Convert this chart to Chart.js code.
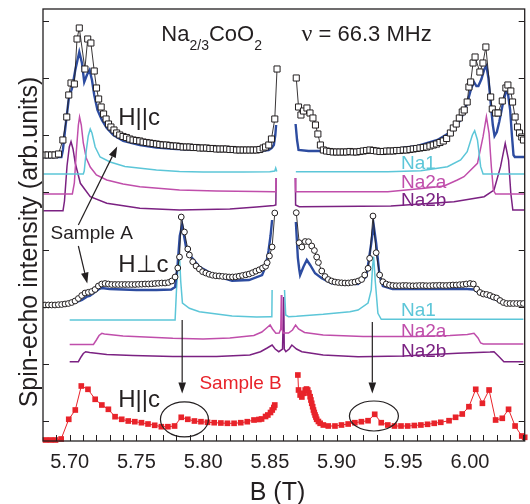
<!DOCTYPE html>
<html>
<head>
<meta charset="utf-8">
<script src="https://cdn.jsdelivr.net/npm/chart.js@4.4.1/dist/chart.umd.min.js"></script>
<style>
html, body { margin: 0; padding: 0; background: #fff; }
</style>
</head>
<body>
<canvas id="nmrChart" width="530" height="504"></canvas>
<script>
// B in tesla, intensity in arbitrary units
const xTicks = [5.70, 5.75, 5.80, 5.85, 5.90, 5.95, 6.00];
const yTicks = [20, 77, 134, 191, 249, 306, 363, 420];

// Sample A, H||c : measured points (null = gap in the sweep)
const hcDataB = [5.6812, 5.6838, 5.6864, 5.6890, 5.6916, 5.6949, 5.6978, 5.6993, 5.7010, 5.7035, 5.7055, 5.7072, 5.7114, 5.7135, 5.7159, 5.7184, 5.7201, 5.7217, 5.7236, 5.7254, 5.7273, 5.7291, 5.7309, 5.7332, 5.7352,
  5.7375, 5.7400, 5.7425, 5.7450, 5.7475, 5.7500, 5.7525, 5.7550, 5.7575, 5.7600, 5.7625, 5.7650, 5.7675, 5.7700, 5.7725, 5.7750, 5.7775, 5.7800, 5.7825, 5.7850, 5.7875, 5.7900, 5.7925, 5.7950, 5.7975, 5.8000, 5.8025, 5.8050, 5.8075, 5.8100, 5.8125, 5.8150, 5.8175, 5.8200, 5.8225, 5.8250, 5.8275, 5.8300, 5.8325, 5.8350, 5.8375, 5.8400, 5.8425, 5.8450, 5.8468, 5.8492, 5.8512, 5.8537, 5.8554,
  5.8620,
  5.8698, 5.8715, 5.8733, 5.8752, 5.8778, 5.8801, 5.8823, 5.8842, 5.8860, 5.8879, 5.8901,
  5.8925, 5.8950, 5.8975, 5.9000, 5.9025, 5.9050, 5.9075, 5.9100, 5.9125, 5.9150, 5.9175, 5.9200, 5.9225, 5.9250, 5.9275, 5.9300, 5.9325, 5.9350, 5.9375, 5.9400, 5.9425, 5.9450, 5.9475, 5.9500, 5.9525, 5.9550, 5.9575, 5.9600, 5.9625, 5.9650, 5.9675, 5.9700, 5.9725, 5.9750, 5.9775, 5.9800, 5.9825,
  5.9853, 5.9875, 5.9897, 5.9920, 5.9942, 5.9957, 5.9979, 5.9992, 6.0005, 6.0023, 6.0038, 6.0074, 6.0097, 6.0119, 6.0155, 6.0167, 6.0192, 6.0210, 6.0242, 6.0269, 6.0284, 6.0306, 6.0319, 6.0338, 6.0356, 6.0371, 6.0388, 6.0401];
const hcDataI = [286, 286, 286, 286, 287, 301, 324, 346, 358, 357, 402, 413, 372, 402, 398, 370, 353, 342, 334, 327, 322, 317, 314, 311, 308,
  306, 304.5, 303.5, 302, 301, 300.5, 300, 299, 298.5, 298, 297.5, 297, 296.5, 296, 296, 295.5, 295, 295, 294.5, 294, 294, 294, 293.5, 293.5, 293, 293, 293, 292.5, 292.5, 292, 292, 292, 292, 291.5, 291.5, 291, 291, 291, 291, 291, 291, 291, 291.5, 293, 294, 296, 302, 322, 372,
  null,
  363, 334, 326, 330, 333, 328, 323, 316, 307, 296, 291,
  290, 289.5, 289, 289, 289, 289, 289, 289.5, 289, 289, 289.5, 290, 290.5, 291, 290.5, 290, 289.5, 289.5, 290, 290, 290, 290.5, 290.5, 291, 291, 291.5, 292, 292.5, 293, 293.5, 294, 295, 296, 297, 298.5, 300, 302.5,
  308, 313, 317, 323, 329, 331, 339, 354, 359, 378, 384, 369, 378, 394, 344, 332, 328, 328, 340, 353, 356, 350, 339, 324, 314, 308, 304, 301];

// Sample A, H||c : simulated total and components
const hcFitB = [5.6804, 5.6938, 5.6949, 5.6968, 5.6993, 5.7018, 5.7042, 5.7072, 5.7092, 5.7109, 5.7129, 5.7149, 5.7167, 5.7184, 5.7208, 5.7241, 5.7278, 5.7327, 5.7401, 5.7526, 5.7650, 5.7799, 5.7972, 5.8195, 5.8418, 5.8492, 5.8515, 5.8530, 5.8541, 5.8547, 5.8620, 5.8693, 5.8704, 5.8715, 5.8790, 5.9013, 5.9236, 5.9407, 5.9607, 5.9756, 5.9855, 5.9930, 5.9979, 6.0010, 6.0030, 6.0048, 6.0063, 6.0086, 6.0108, 6.0123, 6.0138, 6.0155, 6.0171, 6.0184, 6.0201, 6.0219, 6.0249, 6.0269, 6.0284, 6.0301, 6.0314, 6.0326, 6.0336, 6.0410];
const hcFitI = [284, 284, 291, 314, 342, 353, 371, 389, 378, 359, 366, 371, 361, 346, 331, 321, 313, 306, 300, 296, 293.5, 292, 291.5, 290.5, 290, 291, 293, 296, 306, 316, null, 317, 301, 291, 290, 290, 290.5, 291.5, 295, 301, 309, 321, 338, 353, 359, 355, 355, 362, 372, 375, 363, 338, 316, 305, 309, 319, 339, 349, 348, 331, 306, 286, 284, 284];

const hcNa1B = [5.6804, 5.7102, 5.7109, 5.7124, 5.7139, 5.7154, 5.7167, 5.7191, 5.7228, 5.7303, 5.7414, 5.7650, 5.7823, 5.8000, 5.8300, 5.8500, 5.8537, 5.8544, 5.8552, 5.8620, 5.8695, 5.9384, 5.9632, 5.9831, 5.9930, 5.9979, 6.0018, 6.0035, 6.0056, 6.0080, 6.0098, 6.0410];
const hcNa1I = [267, 267, 270, 290, 305, 312, 308, 294, 284, 279, 274.5, 271, 269.5, 269, 269, 269.3, 270, 273, 269.5, null, 269.3, 269.3, 270.3, 274.3, 281, 289.3, 306, 310.3, 301, 274.3, 267, 267];

const hcNa2aB = [5.6804, 5.7020, 5.7035, 5.7050, 5.7065, 5.7074, 5.7087, 5.7102, 5.7124, 5.7154, 5.7200, 5.7278, 5.7400, 5.7526, 5.7823, 5.8100, 5.8400, 5.8530, 5.8545, 5.8547, 5.8620, 5.8691, 5.8693, 5.8720, 5.9384, 5.9657, 5.9806, 5.9905, 5.9955, 6.0056, 6.0098, 6.0123, 6.0143, 6.0160, 6.0175, 6.0192, 6.0410];
const hcNa2aI = [247, 247, 258, 290, 316, 324, 316, 298, 283, 274, 266, 261, 257, 254.3, 251, 250, 249.5, 249.3, 249.3, 263, null, 263, 249.3, 249.3, 249.3, 252.7, 255, 261, 264.3, 277.7, 304.3, 324.3, 307.7, 274.3, 251, 247, 247];

const hcNa2bB = [5.6804, 5.6950, 5.6961, 5.6980, 5.6997, 5.7010, 5.7025, 5.7042, 5.7080, 5.7154, 5.7278, 5.7526, 5.7823, 5.8200, 5.8400, 5.8530, 5.8545, 5.8547, 5.8620, 5.8691, 5.8693, 5.8720, 5.9407, 5.9880, 6.0106, 6.0180, 6.0229, 6.0264, 6.0289, 6.0306, 6.0321, 6.0410];
const hcNa2bI = [230.3, 230.3, 240, 275, 294, 299.3, 292, 277.7, 257.7, 244.3, 237.7, 232.7, 231, 232, 234, 235.5, 236, 263, null, 263, 236, 234.3, 235, 239.3, 244.3, 251, 274.3, 297.7, 281, 247.7, 231, 231];

// Sample A, H perp c : measured points
const hpDataB = [5.6815, 5.6840, 5.6865, 5.6890, 5.6915, 5.6940, 5.6965, 5.6990, 5.7015, 5.7040, 5.7065, 5.7090, 5.7115, 5.7140, 5.7165, 5.7190, 5.7215, 5.7240, 5.7265, 5.7290, 5.7315, 5.7340, 5.7365, 5.7390, 5.7415, 5.7440, 5.7465, 5.7490, 5.7515, 5.7540, 5.7565, 5.7590, 5.7615, 5.7640, 5.7665, 5.7690, 5.7715, 5.7740, 5.7765, 5.7790,
  5.7810, 5.7823, 5.7836, 5.7860, 5.7885, 5.7897, 5.7922, 5.7947, 5.7972, 5.7996,
  5.8020, 5.8045, 5.8070, 5.8095, 5.8120, 5.8145, 5.8170, 5.8195, 5.8220, 5.8245, 5.8270, 5.8295, 5.8320, 5.8345, 5.8370, 5.8395, 5.8420, 5.8445,
  5.8468, 5.8480, 5.8497, 5.8517, 5.8537,
  5.8620,
  5.8698, 5.8720, 5.8740, 5.8765, 5.8790, 5.8814, 5.8834, 5.8851, 5.8864, 5.8889, 5.8914, 5.8938, 5.8963, 5.8988, 5.9013, 5.9038, 5.9063, 5.9088, 5.9113, 5.9138, 5.9163, 5.9188, 5.9211, 5.9236, 5.9248, 5.9273, 5.9297, 5.9323, 5.9347, 5.9372, 5.9397,
  5.9422, 5.9447, 5.9472, 5.9497, 5.9522, 5.9547, 5.9572, 5.9597, 5.9622, 5.9647, 5.9672, 5.9697, 5.9722, 5.9747, 5.9772, 5.9797, 5.9822, 5.9847, 5.9872, 5.9897, 5.9922, 5.9947, 5.9972,
  6.0000, 6.0025, 6.0050, 6.0075, 6.0100, 6.0125, 6.0150, 6.0175, 6.0200, 6.0225, 6.0250, 6.0275, 6.0300, 6.0325, 6.0350, 6.0375, 6.0400];
const hpDataI = [136, 136, 136, 136, 136.3, 136.5, 137, 137.5, 138.5, 140, 142.5, 145.5, 148, 148.7, 149.5, 151.5, 155, 157, 157.5, 157, 156.5, 156.5, 156.5, 156.5, 156.5, 156.5, 156.5, 156.5, 156.7, 156.8, 157, 157, 157.2, 157.5, 157.7, 158, 158, 158.5, 160, 164,
  173, 184, 224, 209, 192, 186, 179.3, 175, 172, 169.3,
  168, 166.7, 165.8, 165.2, 165, 164.6, 164.3, 164, 164, 164.2, 164.8, 165.5, 166.2, 167, 168.3, 169.8, 171.2, 173,
  174.7, 178.3, 185, 194, 228,
  null,
  228.3, 198.3, 194, 199.5, 199.3, 195, 190.5, 184, 178.5, 170, 164.5, 161.5, 160, 159, 158.5, 158.2, 158, 158, 158.5, 159, 160, 161.5, 166, 172.7, 182.7, 225, 188.3, 166, 159.3, 157, 156,
  155.5, 155.3, 155.3, 155.5, 155.5, 155.3, 155.2, 155.3, 155.5, 155.5, 155.3, 155.3, 155.5, 155.5, 155.7, 155.5, 155.5, 155.7, 156, 156, 156.3, 156.5, 157,
  157.5, 157, 152, 148.5, 147, 146.5, 145.5, 144, 143, 140.5, 138.5, 137.5, 137.5, 137.5, 137.5, 137.5, 137.5];

// Sample A, H perp c : simulated total and components
const hpFitB = [5.7005, 5.7050, 5.7092, 5.7129, 5.7150, 5.7180, 5.7215, 5.7241, 5.7300, 5.7500, 5.7650, 5.7761, 5.7790, 5.7808, 5.7825, 5.7843, 5.7873, 5.7910, 5.7972, 5.8096, 5.8217, 5.8344, 5.8442, 5.8468, 5.8490, 5.8505, 5.8517, 5.8620, 5.8695, 5.8710, 5.8720, 5.8727, 5.8752, 5.8777, 5.8802, 5.8839, 5.8889, 5.8963, 5.9161, 5.9223, 5.9260, 5.9278, 5.9297, 5.9323, 5.9347, 5.9420, 5.9980, 6.0030, 6.0056, 6.0080, 6.0130, 6.0180, 6.0210, 6.0249, 6.0410];
const hpFitI = [136.7, 139, 141, 144.3, 145, 148, 151.5, 153, 152, 151, 151, 151.5, 154, 175, 205, 216, 193, 184.3, 174.3, 165, 160.3, 161, 166, 174.3, 190, 205, 221, null, 219, 183, 172, 166, 174.3, 181, 176, 167.7, 162.7, 157.7, 157, 164.3, 197.7, 216, 197.7, 164.3, 155, 152, 152, 151.5, 149, 147.5, 144.3, 142, 140.3, 137.7, 137];

const hpNa1B = [5.7000, 5.7790, 5.7800, 5.7812, 5.7823, 5.7832, 5.7845, 5.7897, 5.7972, 5.8217, 5.8400, 5.8505, 5.8515, 5.8517, 5.8560, 5.8610, 5.8619, 5.8640, 5.8700, 5.8900, 5.9100, 5.9161, 5.9236, 5.9260, 5.9270, 5.9278, 5.9290, 5.9310, 5.9335, 6.0400];
const hpNa1I = [121, 121, 150, 175, 185, 160, 138, 132.7, 129.3, 125, 124, 124.3, 124.3, 151, null, 151, 126, 124.3, 124.7, 126.7, 129.3, 131, 138, 151, 175, 184.3, 160, 127.7, 121.7, 121.7];

const hpNa2aB = [5.7000, 5.7178, 5.7200, 5.7220, 5.7241, 5.7260, 5.7400, 5.7773, 5.8000, 5.8200, 5.8380, 5.8440, 5.8480, 5.8502, 5.8520, 5.8545, 5.8570, 5.8582, 5.8586, 5.8590, 5.8600, 5.8640, 5.8670, 5.8693, 5.8715, 5.8760, 5.8900, 5.9200, 5.9600, 5.9850, 5.9980, 6.0030, 6.0060, 6.0080, 6.0100, 6.0400];
const hpNa2aI = [96.5, 96.5, 101, 105.5, 107.7, 107, 105, 102.7, 102, 103, 105.5, 109, 113.5, 116, 112, 107.7, 108, 112, 146, 112, 108, 108, 111, 116, 112, 108.5, 106, 104.5, 104.5, 105.5, 106.5, 107.7, 103, 98, 97, 97];

const hpNa2bB = [5.7000, 5.7065, 5.7085, 5.7102, 5.7120, 5.7150, 5.7278, 5.7474, 5.7773, 5.8100, 5.8350, 5.8430, 5.8480, 5.8517, 5.8540, 5.8567, 5.8595, 5.8604, 5.8608, 5.8620, 5.8645, 5.8665, 5.8700, 5.8740, 5.8900, 5.9161, 5.9500, 5.9905, 6.0150, 6.0180, 6.0220, 6.0254, 6.0400];
const hpNa2bI = [79.3, 79.3, 84, 87.5, 89.3, 88.5, 86.5, 85.5, 84.5, 84.5, 86, 89.3, 93, 96, 92, 89.3, 92, 144, 92, 89.3, 92, 96, 92, 89.3, 86, 84.3, 85, 87.7, 89, 89.3, 84, 79.3, 79.3];

// Sample B, H||c : measured points
const sampleBB = [5.6819, 5.6857, 5.6894, 5.6936, 5.6993, 5.7042, 5.7087, 5.7137, 5.7191, 5.7241, 5.7290, 5.7340, 5.7390, 5.7439, 5.7488, 5.7538, 5.7587, 5.7637, 5.7687, 5.7736, 5.7786, 5.7836, 5.7885, 5.7935, 5.7984, 5.8033, 5.8083, 5.8133, 5.8182, 5.8232, 5.8282, 5.8331, 5.8381, 5.8418, 5.8438, 5.8468, 5.8485, 5.8505, 5.8518, 5.8530, 5.8537,
  5.8620,
  5.8710, 5.8715, 5.8727, 5.8740, 5.8752, 5.8765, 5.8775, 5.8784, 5.8793, 5.8802, 5.8808, 5.8814, 5.8821, 5.8827, 5.8833, 5.8839, 5.8845, 5.8851, 5.8864, 5.8877, 5.8901, 5.8938, 5.8988, 5.9037, 5.9087, 5.9137, 5.9186, 5.9236, 5.9286, 5.9335, 5.9384, 5.9434, 5.9483, 5.9533, 5.9583, 5.9632, 5.9682, 5.9732, 5.9781, 5.9843, 5.9892, 5.9942, 5.9992, 6.0043, 6.0093, 6.0143, 6.0192, 6.0242, 6.0289, 6.0338, 6.0388, 6.0410];
const sampleBI = [1, 1, 1, 2, 21.7, 31, 55, 51.7, 41.7, 36, 31.7, 24.3, 21.7, 20, 19.3, 18.3, 17, 15.7, 14.3, 14.3, 15, 23.7, 21.7, 20, 19.3, 18.7, 18.3, 18, 17.7, 17.7, 18.3, 19.3, 21, 21.5, 22, 24.5, 26, 28.5, 31, 33.5, 36,
  null,
  66, 51, 46, 44, 47.7, 51, 52, 51, 48, 44.3, 41, 37.7, 34.3, 31, 28.5, 26, 24, 21.7, 19.5, 17.7, 16, 15, 15, 16, 17, 18.3, 19.3, 20.3, 26.7, 18.3, 16, 15, 15, 15, 15.5, 16, 16.7, 17.7, 18.7, 20.3, 23.7, 27, 34.3, 51.7, 37.7, 51, 21, 22.7, 31.7, 15, 5, 3.7];

const INK = '#231f20';
const FONT = "'Liberation Sans', Arial, sans-serif";
const CYAN = '#5cc6d8', MAGENTA = '#c04eab', PURPLE = '#7b2182', BLUE = '#2d4ca0', RED = '#e8232a';

const pts = (xs, ys) => xs.map((x, i) => ({x: x, y: ys[i]}));

function lineSet(xs, ys, color, width, order) {
  return {data: pts(xs, ys), showLine: true, borderColor: color, borderWidth: width,
          pointRadius: 0, tension: 0, order: order};
}

function arrow(ctx, x0, y0, x1, y1) {
  const a = Math.atan2(y1 - y0, x1 - x0), len = 11, half = 3.8;
  const bx = x1 - len * Math.cos(a), by = y1 - len * Math.sin(a);
  ctx.beginPath();
  ctx.moveTo(x0, y0);
  ctx.lineTo(bx, by);
  ctx.stroke();
  ctx.beginPath();
  ctx.moveTo(x1, y1);
  ctx.lineTo(bx + half * Math.sin(a), by - half * Math.cos(a));
  ctx.lineTo(bx - half * Math.sin(a), by + half * Math.cos(a));
  ctx.closePath();
  ctx.fill();
}

function say(ctx, str, px, py, size, color, family) {
  ctx.font = size + 'px ' + (family || FONT);
  ctx.fillStyle = color;
  ctx.fillText(str, px, py);
  return ctx.measureText(str).width;
}

// labels anchored in data units (left edge, baseline)
const labels = [
  {t: 'H||c', b: 5.7364, v: 316, size: 24, color: INK},
  {t: 'H\u22A5c', b: 5.7364, v: 169.5, size: 24, color: INK},
  {t: 'H||c', b: 5.7364, v: 34.5, size: 24, color: INK},
  {t: 'Sample A', b: 5.6857, v: 202.5, size: 19, color: INK},
  {t: 'Sample B', b: 5.7972, v: 52, size: 19, color: RED},
  {t: 'Na1', b: 5.9483, v: 272, size: 19, color: CYAN},
  {t: 'Na2a', b: 5.9483, v: 253, size: 19, color: MAGENTA},
  {t: 'Na2b', b: 5.9483, v: 235, size: 19, color: PURPLE},
  {t: 'Na1', b: 5.9483, v: 125, size: 19, color: CYAN},
  {t: 'Na2a', b: 5.9483, v: 104.5, size: 19, color: MAGENTA},
  {t: 'Na2b', b: 5.9483, v: 84.5, size: 19, color: PURPLE}
];
const arrows = [
  [5.7065, 216, 5.7356, 294.5],
  [5.7065, 195, 5.7132, 157.5],
  [5.7843, 121, 5.7843, 47.5],
  [5.9268, 119, 5.9268, 47.5]
];
const rings = [
  {b: 5.7860, v: 21.7, rx: 24, ry: 17.5},
  {b: 5.9280, v: 25, rx: 24.5, ry: 15}
];

const decorate = {
  id: 'decorate',
  afterDatasetsDraw(chart) {
    const {ctx, chartArea: area, scales} = chart;
    const X = b => scales.x.getPixelForValue(b);
    const Y = v => scales.y.getPixelForValue(v);
    ctx.save();
    ctx.strokeStyle = INK;
    ctx.fillStyle = INK;

    // frame with inward ticks
    ctx.lineWidth = 1.3;
    ctx.strokeRect(area.left, area.top, area.right - area.left, area.bottom - area.top);
    ctx.lineWidth = 1;
    ctx.beginPath();
    for (let k = 569; k <= 604; k++) {
      const px = Math.round(X(k / 100)) + 0.5;
      ctx.moveTo(px, area.bottom);
      ctx.lineTo(px, area.bottom - 6);
    }
    yTicks.forEach(v => {
      const py = Math.round(Y(v)) + 0.5;
      ctx.moveTo(area.left, py);
      ctx.lineTo(area.left + 6, py);
      ctx.moveTo(area.right, py);
      ctx.lineTo(area.right - 6, py);
    });
    ctx.stroke();

    // arrows and ellipses
    ctx.lineWidth = 1.2;
    arrows.forEach(a => arrow(ctx, X(a[0]), Y(a[1]), X(a[2]), Y(a[3])));
    rings.forEach(r => {
      ctx.beginPath();
      ctx.ellipse(X(r.b), Y(r.v), r.rx, r.ry, 0, 0, Math.PI * 2);
      ctx.stroke();
    });

    // text labels
    ctx.textAlign = 'left';
    ctx.textBaseline = 'alphabetic';
    labels.forEach(l => say(ctx, l.t, X(l.b), Y(l.v), l.size, l.color));

    // heading: Na2/3CoO2   nu = 66.3 MHz
    let px = X(5.7687);
    const base = Y(400.3);
    px += say(ctx, 'Na', px, base, 22, INK);
    px += say(ctx, '2/3', px, base + 9, 14, INK);
    px += say(ctx, 'CoO', px, base, 22, INK);
    say(ctx, '2', px, base + 9, 14, INK);
    px = X(5.8738);
    px += say(ctx, '\u03BD', px, base, 24, INK, "'Liberation Serif', serif");
    say(ctx, ' = 66.3 MHz', px, base, 22, INK);

    // axis titles
    ctx.textAlign = 'center';
    say(ctx, 'B (T)', 277.5, 500, 25, INK);
    ctx.translate(37, 242);
    ctx.rotate(-Math.PI / 2);
    say(ctx, 'Spin-echo intensity (arb.units)', 0, 0, 25, INK);
    ctx.restore();
  }
};

new Chart(document.getElementById('nmrChart'), {
  type: 'scatter',
  data: {
    datasets: [
      lineSet(hcNa1B, hcNa1I, CYAN, 1.5, 10),
      lineSet(hcNa2aB, hcNa2aI, MAGENTA, 1.5, 10),
      lineSet(hcNa2bB, hcNa2bI, PURPLE, 1.5, 10),
      lineSet(hpNa1B, hpNa1I, CYAN, 1.5, 10),
      lineSet(hpNa2aB, hpNa2aI, MAGENTA, 1.5, 10),
      lineSet(hpNa2bB, hpNa2bI, PURPLE, 1.5, 10),
      lineSet(hcFitB, hcFitI, BLUE, 2.4, 6),
      lineSet(hpFitB, hpFitI, BLUE, 2.4, 6),
      {data: pts(hcDataB, hcDataI), showLine: true, borderColor: INK, borderWidth: 0.9, tension: 0,
       pointStyle: 'rect', pointRadius: 4.3, pointBorderWidth: 1, pointBorderColor: INK,
       pointBackgroundColor: '#fff', order: 2},
      {data: pts(hpDataB, hpDataI), showLine: true, borderColor: INK, borderWidth: 0.9, tension: 0,
       pointStyle: 'circle', pointRadius: 2.9, pointBorderWidth: 1, pointBorderColor: INK,
       pointBackgroundColor: '#fff', order: 2},
      {data: pts(sampleBB, sampleBI), showLine: true, borderColor: RED, borderWidth: 1, tension: 0,
       pointStyle: 'rect', pointRadius: 4, pointBorderWidth: 0, pointBackgroundColor: RED,
       clip: false, order: 1}
    ]
  },
  options: {
    responsive: false,
    animation: false,
    devicePixelRatio: 1,
    events: [],
    layout: {padding: {top: 9, right: 2, left: 0, bottom: 0}},
    plugins: {legend: {display: false}, tooltip: {enabled: false}},
    scales: {
      x: {
        type: 'linear', position: 'bottom', min: 5.68, max: 6.041,
        afterBuildTicks: s => { s.ticks = xTicks.map(v => ({value: v})); },
        afterFit: s => { s.height = 63; },
        ticks: {padding: 9, color: INK, font: {family: FONT, size: 20}, maxRotation: 0, autoSkip: false,
                callback: v => v.toFixed(2)},
        grid: {display: false, drawTicks: false},
        border: {display: false}
      },
      y: {
        min: 0, max: 432,
        afterFit: s => { s.width = 43; },
        ticks: {display: false},
        grid: {display: false, drawTicks: false},
        border: {display: false}
      }
    }
  },
  plugins: [decorate]
});
</script>
</body>
</html>
